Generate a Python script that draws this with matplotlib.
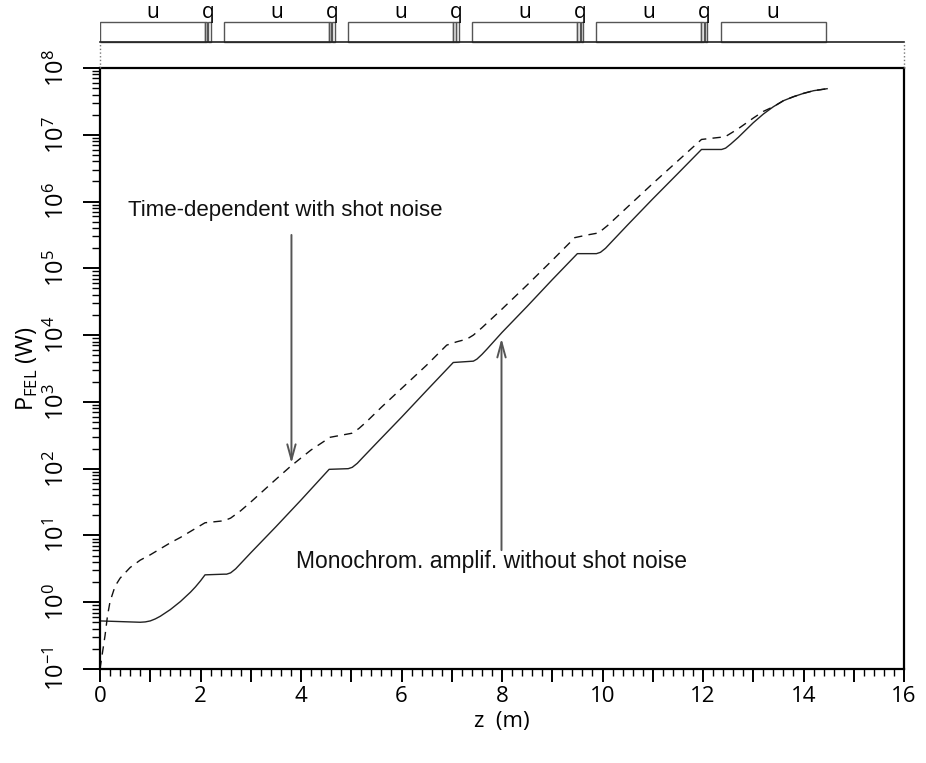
import numpy as np
import matplotlib
matplotlib.use('Agg')
import matplotlib.pyplot as plt
from matplotlib.patches import Rectangle
from matplotlib.ticker import LogLocator, MultipleLocator, NullFormatter

# monochromatic amplification, no shot noise (z in m, log10 of P in W)
z_mono = [0.00, 0.20, 0.40, 0.60, 0.80, 0.90, 1.00, 1.10, 1.20, 1.30, 1.40, 1.50, 1.60,
          1.70, 1.80, 1.90, 2.00, 2.09, 2.47, 2.52, 2.60, 2.70, 2.80, 3.00, 3.50, 4.00,
          4.56, 4.94, 5.02, 5.12, 5.22, 5.50, 6.00, 6.50, 7.03, 7.43, 7.50, 7.60, 7.70,
          8.00, 8.50, 9.00, 9.50, 9.88, 9.96, 10.06, 10.16, 10.50, 11.00, 11.50, 11.97,
          12.37, 12.45, 12.55, 12.70, 12.85, 13.00, 13.20, 13.40, 13.60, 13.80, 14.00,
          14.20, 14.47]
lg_mono = [-0.28, -0.285, -0.29, -0.295, -0.30, -0.295, -0.28, -0.25, -0.21, -0.16, -0.11,
           -0.05, 0.01, 0.08, 0.15, 0.23, 0.32, 0.41, 0.42, 0.42, 0.44, 0.50, 0.58, 0.74,
           1.13, 1.53, 1.99, 2.00, 2.02, 2.08, 2.16, 2.38, 2.77, 3.17, 3.59, 3.61, 3.64,
           3.71, 3.79, 4.04, 4.43, 4.83, 5.22, 5.22, 5.24, 5.30, 5.38, 5.65, 6.04, 6.42,
           6.78, 6.78, 6.80, 6.86, 6.96, 7.07, 7.18, 7.31, 7.42, 7.51, 7.57, 7.62, 7.66,
           7.69]

# time-dependent simulation with shot noise
z_td = [0.00, 0.05, 0.10, 0.15, 0.20, 0.30, 0.40, 0.60, 0.80, 1.00, 1.20, 1.40, 1.60,
        1.80, 2.09, 2.47, 2.60, 2.80, 3.00, 3.50, 3.80, 4.20, 4.58, 5.01, 5.15, 5.30,
        5.60, 6.00, 6.50, 6.90, 7.10, 7.30, 7.43, 7.60, 8.00, 8.50, 9.00, 9.45, 9.70,
        9.92, 10.10, 10.50, 11.00, 11.50, 11.97, 12.20, 12.44, 12.70, 13.00, 13.20,
        13.40, 13.60, 13.80, 14.00, 14.20, 14.47]
lg_td = [-1.00, -0.75, -0.50, -0.20, 0.01, 0.24, 0.36, 0.52, 0.63, 0.71, 0.80, 0.89, 0.97,
         1.06, 1.19, 1.22, 1.26, 1.37, 1.50, 1.84, 2.04, 2.28, 2.47, 2.53, 2.60, 2.70,
         2.92, 3.20, 3.55, 3.85, 3.90, 3.94, 4.00, 4.11, 4.39, 4.75, 5.12, 5.46, 5.50,
         5.53, 5.64, 5.92, 6.27, 6.61, 6.93, 6.95, 6.97, 7.09, 7.25, 7.35, 7.42, 7.51,
         7.57, 7.62, 7.66, 7.69]

# magnetic lattice
und_start = [0.0, 2.47, 4.94, 7.41, 9.88, 12.35]
und_len = 2.09
quad_start = [2.09, 4.56, 7.03, 9.50, 11.97]
quad_len = 0.11

tick_font = 'Open Sans'
note_font = ['Liberation Sans', 'DejaVu Sans']

fig = plt.figure(figsize=(9.26, 7.63), dpi=100)
ax = fig.add_axes([100/926, 94/763, 804/926, 601/763])

ax.plot(z_mono, 10**np.array(lg_mono), color='#222222', lw=1.0)
ax.plot(z_td, 10**np.array(lg_td), color='#111111', lw=1.0, dashes=(6, 4.5))

ax.set_yscale('log')
ax.set_xlim(0, 16)
ax.set_ylim(1e-1, 1e8)

ax.xaxis.set_major_locator(MultipleLocator(1))
ax.xaxis.set_minor_locator(MultipleLocator(0.2))
ax.xaxis.set_major_formatter(plt.FuncFormatter(lambda v, p: '%d' % v if int(round(v)) % 2 == 0 else ''))
ax.yaxis.set_major_locator(LogLocator(base=10, numticks=20))
ax.yaxis.set_minor_locator(LogLocator(base=10, subs=np.arange(2, 10), numticks=20))
ax.yaxis.set_minor_formatter(NullFormatter())

for s in ax.spines.values():
    s.set_linewidth(1.6)
ax.tick_params(axis='x', which='major', direction='out', length=9, width=1.4, pad=3, labelsize=16)
ax.tick_params(axis='x', which='minor', direction='out', length=5, width=1.0)
ax.tick_params(axis='y', which='major', direction='out', length=12, width=1.4, pad=10, labelsize=17,
               labelrotation=90)
ax.tick_params(axis='y', which='minor', direction='out', length=6, width=1.0)
for lab in ax.get_yticklabels():
    lab.set_verticalalignment('center')
for lab in ax.get_xticklabels() + ax.get_yticklabels():
    lab.set_fontfamily(tick_font)

ax.set_xlabel('z  (m)', fontsize=16, family=tick_font, labelpad=3)
ax.set_ylabel(r'P$_{\mathregular{FEL}}$ (W)', fontsize=17, family=tick_font, labelpad=3)

# annotations
arrow_kw = dict(arrowstyle='->,head_length=1.1,head_width=0.3', color='#555555', lw=1.4,
                shrinkA=0, shrinkB=0)
ax.annotate('', xy=(3.81, 10**2.08), xytext=(3.81, 10**5.5), arrowprops=arrow_kw)
ax.annotate('', xy=(7.99, 10**3.95), xytext=(7.99, 10**0.78), arrowprops=arrow_kw)
ax.text(0.56, 10**5.87, 'Time-dependent with shot noise', fontsize=16, family=note_font,
        ha='left', va='center', color='#111111')
ax.text(3.91, 10**0.607, 'Monochrom. amplif. without shot noise', fontsize=16.5, family=note_font,
        ha='left', va='center', color='#111111')

# lattice strip above the plot
lat = fig.add_axes([100/926, 695/763, 804/926, 68/763], sharex=ax)
lat.set_ylim(0, 68)
lat.axis('off')
lat.plot([0, 16], [26, 26], color='#222222', lw=1.2, clip_on=False)
lat.plot([0, 0], [0, 26], color='#777777', lw=1, ls=':', clip_on=False)
lat.plot([16, 16], [0, 26], color='#777777', lw=1, ls=':', clip_on=False)
for z0 in und_start:
    lat.add_patch(Rectangle((z0, 26), und_len, 20, fill=False, ec='#555555', lw=1.0))
    lat.text(z0 + und_len/2, 50, 'u', ha='center', va='baseline', fontsize=15, family=tick_font)
for z0 in quad_start:
    lat.add_patch(Rectangle((z0, 26), quad_len*0.42, 20, fill=False, ec='#555555', lw=1.0))
    lat.add_patch(Rectangle((z0 + quad_len*0.58, 26), quad_len*0.42, 20, fill=False, ec='#555555', lw=1.0))
    lat.text(z0 + quad_len/2, 50, 'q', ha='center', va='baseline', fontsize=15, family=tick_font)

fig.savefig('out.png', dpi=100)
